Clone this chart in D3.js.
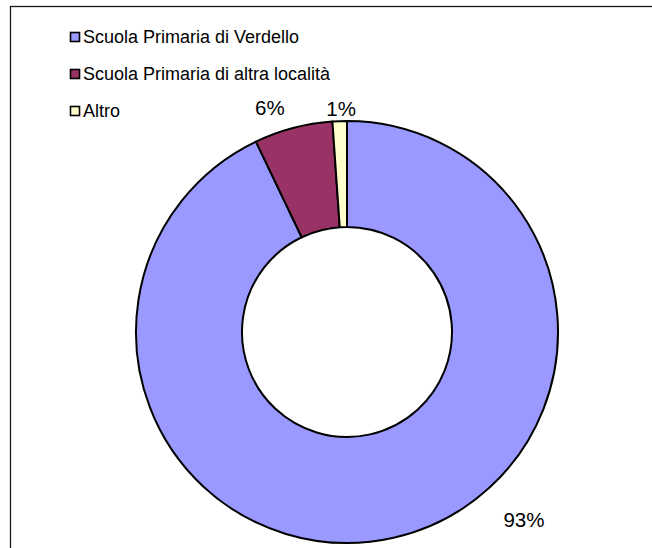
<!DOCTYPE html>
<html><head><meta charset="utf-8">
<script src="https://cdn.jsdelivr.net/npm/d3@7"></script>
<style>body{margin:0;background:#fff}svg{display:block}</style>
</head><body>
<svg id="c" width="652" height="548"></svg>
<script>
const categories = ["Scuola Primaria di Verdello", "Scuola Primaria di altra località", "Altro"];
const values = [92.9, 6.0, 1.1];
const valueLabels = ["93%", "6%", "1%"];
const colors = ["#9999FF", "#993366", "#FFFFCC"];
// label polar placement (degrees clockwise from top, radius px)
const labelAngles = [136.7, 341, 358.5];
const labelRadii = [258, 237, 224];

const svg = d3.select("#c");
svg.append("rect").attr("x",10.5).attr("y",6.5).attr("width",700).attr("height",600)
  .attr("fill","#fff").attr("stroke","#1a1a1a").attr("stroke-width",1.3);

const cx = 347, cy = 332, R = 211, r0 = 105;
const pie = d3.pie().sort(null).value(d=>d);
const arcs = pie(values);
const arc = d3.arc().innerRadius(r0).outerRadius(R);
const g = svg.append("g").attr("transform",`translate(${cx},${cy})`);
g.selectAll("path").data(arcs).join("path")
  .attr("d",arc).attr("fill",(d,i)=>colors[i])
  .attr("stroke","#000").attr("stroke-width",2).attr("stroke-linejoin","round");

g.selectAll("text").data(valueLabels).join("text")
  .attr("x",(d,i)=>d3.pointRadial(labelAngles[i]*Math.PI/180,labelRadii[i])[0])
  .attr("y",(d,i)=>d3.pointRadial(labelAngles[i]*Math.PI/180,labelRadii[i])[1])
  .attr("text-anchor","middle").attr("dominant-baseline","central")
  .attr("font-family","'Liberation Sans', Arial, sans-serif").attr("font-size",20.5)
  .attr("fill","#000").text(d=>d);

const leg = svg.append("g");
const rowY = d3.scalePoint().domain(categories).range([36.5, 110.5]);
const items = leg.selectAll("g").data(categories).join("g")
  .attr("transform",d=>`translate(70,${rowY(d)})`);
items.append("rect").attr("x",0.5).attr("y",-4).attr("width",9).attr("height",9)
  .attr("fill",(d,i)=>colors[i]).attr("stroke","#000").attr("stroke-width",1.6);
items.append("text").attr("x",13).attr("y",6)
  .attr("font-family","'Liberation Sans', Arial, sans-serif").attr("font-size",18)
  .attr("fill","#000").text(d=>d);
</script>
</body></html>
